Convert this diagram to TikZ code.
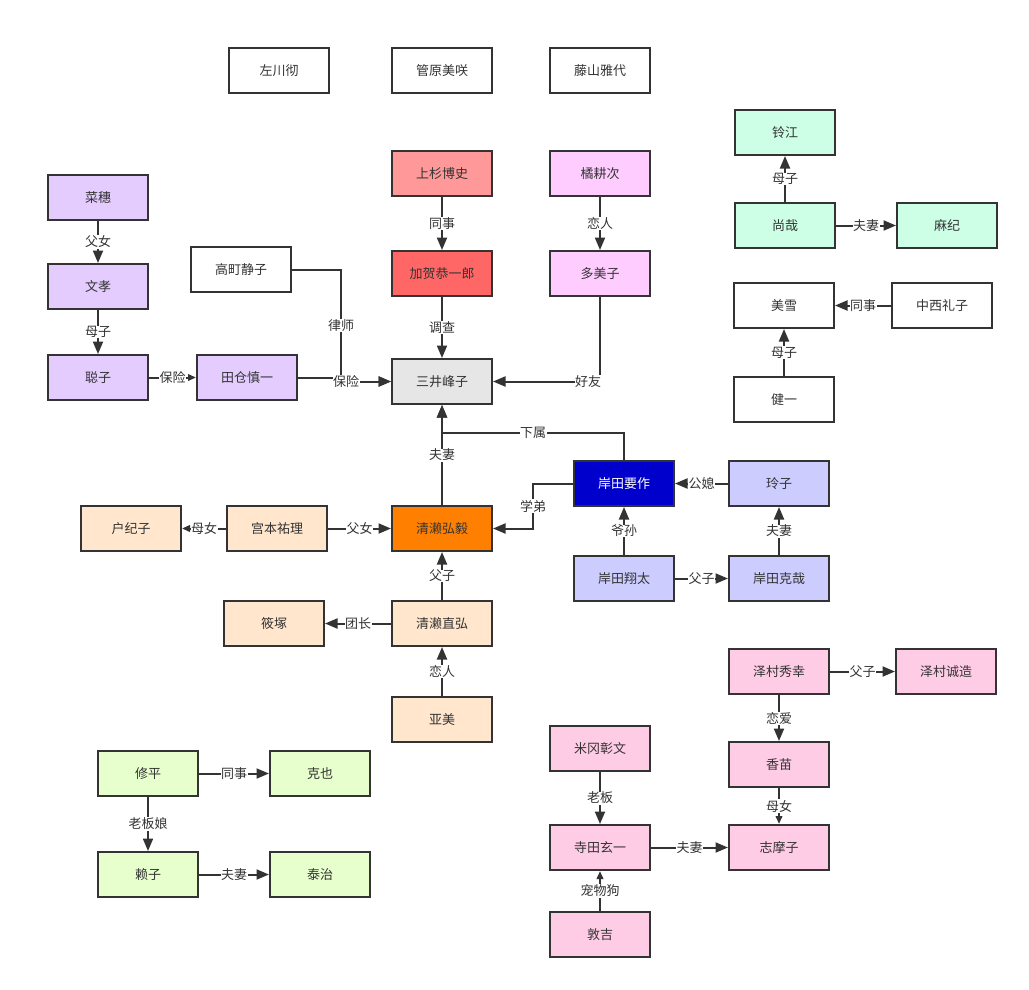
\documentclass[tikz,border=0pt]{standalone}
\usepackage{fontspec}
\newfontfamily\cjk{Noto Sans CJK SC}
\usetikzlibrary{arrows.meta}
\definecolor{ink}{HTML}{333333}
\definecolor{mint}{HTML}{CCFFE6}
\definecolor{lav}{HTML}{E5CCFF}
\definecolor{lpink}{HTML}{FFCCFF}
\definecolor{lred}{HTML}{FF9999}
\definecolor{mred}{HTML}{FF6666}
\definecolor{lgray}{HTML}{E6E6E6}
\definecolor{orng}{HTML}{FF8000}
\definecolor{dblue}{HTML}{0000CC}
\definecolor{peri}{HTML}{CCCCFF}
\definecolor{peach}{HTML}{FFE6CC}
\definecolor{rose}{HTML}{FFCCE6}
\definecolor{lgreen}{HTML}{E6FFCC}
\begin{document}
\begin{tikzpicture}[x=1pt,y=-1pt,
  box/.style={draw=ink,line width=2pt,minimum width=100pt,minimum height=45pt,inner sep=0pt,font=\cjk\fontsize{13}{15}\selectfont,text=ink},
  edge/.style={draw=ink,line width=2pt,-{Triangle[length=12.5pt,width=10pt]}},
  sedge/.style={draw=ink,line width=2pt,-{Triangle[length=8pt,width=6.5pt]}},
  lbl/.style={fill=white,inner sep=0.5pt,font=\cjk\fontsize{13}{15}\selectfont,text=ink}]
\fill[white] (0,0) rectangle (1029,989);
\useasboundingbox (0,0) rectangle (1029,989);
% top row
\node[box,fill=white] (zuochuan) at (279,70.5) {左川彻};
\node[box,fill=white] (guanyuan) at (442,70.5) {管原美咲};
\node[box,fill=white] (tengshan) at (600,70.5) {藤山雅代};
% mint group
\node[box,fill=mint] (lingjiang) at (785,132.5) {铃江};
\node[box,fill=mint] (shangzai) at (785,225.5) {尚哉};
\node[box,fill=mint] (maji) at (947,225.5) {麻纪};
% white group right
\node[box,fill=white] (meixue) at (784,305.5) {美雪};
\node[box,fill=white] (zhongxi) at (942,305.5) {中西礼子};
\node[box,fill=white] (jianyi) at (784,399.5) {健一};
% lavender group
\node[box,fill=lav] (caisui) at (98,197.5) {菜穗};
\node[box,fill=lav] (wenxiao) at (98,286.5) {文孝};
\node[box,fill=lav] (congzi) at (98,377.5) {聪子};
\node[box,fill=lav] (tiancang) at (247,377.5) {田仓慎一};
\node[box,fill=white] (gaoding) at (241,269.5) {高町静子};
% center
\node[box,fill=lred] (shangshan) at (442,173.5) {上杉博史};
\node[box,fill=mred] (jiahe) at (442,273.5) {加贺恭一郎};
\node[box,fill=lpink] (ju) at (600,173.5) {橘耕次};
\node[box,fill=lpink] (duomei) at (600,273.5) {多美子};
\node[box,fill=lgray] (sanjing) at (442,381.5) {三井峰子};
\node[box,fill=orng] (qinglai) at (442,528.5) {清濑弘毅};
% kishida
\node[box,fill=dblue,text=white] (yaozuo) at (624,483.5) {岸田要作};
\node[box,fill=peri] (lingzi) at (779,483.5) {玲子};
\node[box,fill=peri] (xiangtai) at (624,578.5) {岸田翔太};
\node[box,fill=peri] (keya) at (779,578.5) {岸田克哉};
% peach
\node[box,fill=peach] (hujizi) at (131,528.5) {户纪子};
\node[box,fill=peach] (gongben) at (277,528.5) {宫本祐理};
\node[box,fill=peach] (xiaozhong) at (274,623.5) {筱塚};
\node[box,fill=peach] (zhihong) at (442,623.5) {清濑直弘};
\node[box,fill=peach] (yamei) at (442,719.5) {亚美};
% rose
\node[box,fill=rose] (xiuxing) at (779,671.5) {泽村秀幸};
\node[box,fill=rose] (chengzao) at (946,671.5) {泽村诚造};
\node[box,fill=rose] (xiangmiao) at (779,764.5) {香苗};
\node[box,fill=rose] (migang) at (600,748.5) {米冈彰文};
\node[box,fill=rose] (sitian) at (600,847.5) {寺田玄一};
\node[box,fill=rose] (zhimozi) at (779,847.5) {志摩子};
\node[box,fill=rose] (dunji) at (600,934.5) {敦吉};
% green
\node[box,fill=lgreen] (xiuping) at (148,773.5) {修平};
\node[box,fill=lgreen] (keye) at (320,773.5) {克也};
\node[box,fill=lgreen] (laizi) at (148,874.5) {赖子};
\node[box,fill=lgreen] (taizhi) at (320,874.5) {泰治};
% junction coordinates
\coordinate (jxs) at (442,433);
\coordinate (jxd) at (533,483.5);
\coordinate (jls) at (341,381.5);
\coordinate (jbx) at (341,377.5);
% edges
\draw[edge] (shangzai) -- node[lbl]{母子} (lingjiang);
\draw[edge] (shangzai) -- node[lbl]{夫妻} (maji);
\draw[edge] (zhongxi) -- node[lbl]{同事} (meixue);
\draw[edge] (jianyi) -- node[lbl]{母子} (meixue);
\draw[edge] (caisui) -- node[lbl]{父女} (wenxiao);
\draw[edge] (wenxiao) -- node[lbl]{母子} (congzi);
\draw[sedge] (congzi) -- node[lbl]{保险} (tiancang);
\draw[edge] (gaoding.east) -| node[lbl,pos=0.75]{律师} (jls) -- (sanjing.west);
\draw[edge] (tiancang.east) -- (jbx) |- node[lbl,pos=0.55]{保险} (sanjing.west);
\draw[edge] (shangshan) -- node[lbl]{同事} (jiahe);
\draw[edge] (jiahe) -- node[lbl]{调查} (sanjing);
\draw[edge] (ju) -- node[lbl]{恋人} (duomei);
\draw[edge] (duomei.south) |- node[lbl,pos=0.555]{好友} (sanjing.east);
\draw[edge] (qinglai) -- node[lbl]{夫妻} (sanjing);
\draw[edge] (yaozuo.north) |- node[lbl,pos=0.75]{下属} (jxs) -- (sanjing.south);
\draw[edge] (yaozuo.west) -- (jxd) |- node[lbl,pos=0.25]{学弟} (qinglai.east);
\draw[edge] (lingzi) -- node[lbl]{公媳} (yaozuo);
\draw[edge] (xiangtai) -- node[lbl]{爷孙} (yaozuo);
\draw[edge] (xiangtai) -- node[lbl]{父子} (keya);
\draw[edge] (keya) -- node[lbl]{夫妻} (lingzi);
\draw[sedge] (gongben) -- node[lbl]{母女} (hujizi);
\draw[edge] (gongben) -- node[lbl]{父女} (qinglai);
\draw[edge] (zhihong) -- node[lbl]{父子} (qinglai);
\draw[edge] (zhihong) -- node[lbl]{团长} (xiaozhong);
\draw[edge] (yamei) -- node[lbl]{恋人} (zhihong);
\draw[edge] (xiuxing) -- node[lbl]{父子} (chengzao);
\draw[edge] (xiuxing) -- node[lbl]{恋爱} (xiangmiao);
\draw[sedge] (xiangmiao) -- node[lbl]{母女} (zhimozi);
\draw[edge] (migang) -- node[lbl]{老板} (sitian);
\draw[edge] (sitian) -- node[lbl]{夫妻} (zhimozi);
\draw[sedge] (dunji) -- node[lbl]{宠物狗} (sitian);
\draw[edge] (xiuping) -- node[lbl]{同事} (keye);
\draw[edge] (xiuping) -- node[lbl]{老板娘} (laizi);
\draw[edge] (laizi) -- node[lbl]{夫妻} (taizhi);
\end{tikzpicture}
\end{document}
